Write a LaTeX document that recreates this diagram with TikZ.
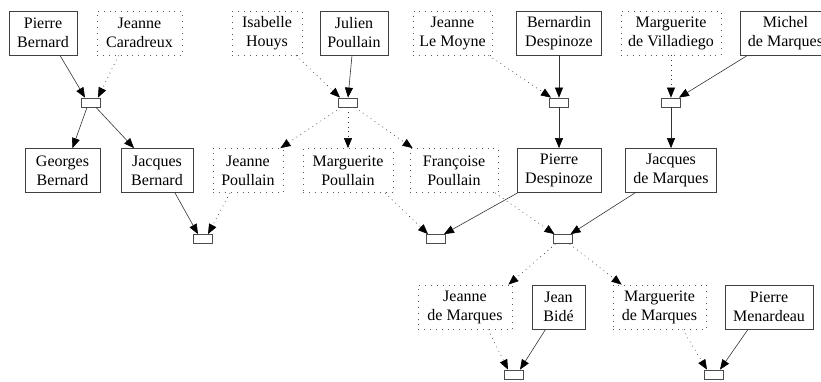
\documentclass[tikz,border=0pt]{standalone}
\usepackage{fontspec}
\setmainfont{Liberation Serif}
\usetikzlibrary{arrows.meta}
\begin{document}
\begin{tikzpicture}[x=1pt,y=-1pt,
  person/.style={draw=black!75, line width=0.8pt, align=center,
    font=\fontsize{16}{19}\selectfont, inner sep=0pt, minimum height=44pt, text=black},
  dperson/.style={person, draw=black!65, dash pattern=on 0.9pt off 5pt},
  fam/.style={draw=black!70, line width=0.8pt, minimum width=19pt, minimum height=9pt, inner sep=0pt},
  rel/.style={draw=black!80, line width=0.6pt, -{Triangle[length=10pt,width=8pt,color=black]}},
  drel/.style={rel, dash pattern=on 0.8pt off 4pt}]
\useasboundingbox (0,0) rectangle (821,381);
% row 1
\node[person, minimum width=68pt] (pb) at (43,33) {Pierre\\Bernard};
\node[dperson, minimum width=85pt] (jc) at (139.5,33) {Jeanne\\Caradreux};
\node[dperson, minimum width=70pt] (ih) at (267,33) {Isabelle\\Houys};
\node[person, minimum width=68pt] (jp) at (354,33) {Julien\\Poullain};
\node[dperson, minimum width=79pt] (jlm) at (452.5,33) {Jeanne\\Le Moyne};
\node[person, minimum width=85pt] (bd) at (559,33) {Bernardin\\Despinoze};
\node[dperson, minimum width=100pt] (mv) at (671,33) {Marguerite\\de Villadiego};
\node[person, minimum width=91pt] (mm) at (785.5,33) {Michel\\de Marques};
% family 1
\node[fam] (f1) at (91,102.5) {};
\node[fam] (f2) at (348,102.5) {};
\node[fam] (f3) at (559,102.5) {};
\node[fam] (f4) at (671,102.5) {};
% row 3
\node[person, minimum width=75pt] (gb) at (62.5,170.5) {Georges\\Bernard};
\node[person, minimum width=72pt] (jb) at (157,170.5) {Jacques\\Bernard};
\node[dperson, minimum width=70pt] (jpo) at (248,170.5) {Jeanne\\Poullain};
\node[dperson, minimum width=90pt] (mp) at (348,170.5) {Marguerite\\Poullain};
\node[dperson, minimum width=88pt] (fp) at (454,170.5) {Françoise\\Poullain};
\node[person, minimum width=84pt] (pd) at (559,170.5) {Pierre\\Despinoze};
\node[person, minimum width=91pt] (jm) at (671,170.5) {Jacques\\de Marques};
% family 2
\node[fam] (f5) at (203,239) {};
\node[fam] (f6) at (436,239) {};
\node[fam] (f7) at (562.5,239) {};
% row 5
\node[dperson, minimum width=94pt] (jdm) at (465,307) {Jeanne\\de Marques};
\node[person, minimum width=53pt] (jbi) at (558.5,307) {Jean\\Bidé};
\node[dperson, minimum width=93pt] (mdm) at (659.5,307) {Marguerite\\de Marques};
\node[person, minimum width=88pt] (pm) at (769,307) {Pierre\\Menardeau};
% family 3
\node[fam] (f8) at (514,374.5) {};
\node[fam] (f9) at (714,374.5) {};
% edges
\draw[rel] ([xshift=17pt]pb.south) -- ([xshift=-6pt]f1.north);
\draw[drel] ([xshift=-21pt]jc.south) -- ([xshift=7pt]f1.north);
\draw[rel] ([xshift=-4pt]f1.south) -- ([xshift=10pt]gb.north);
\draw[rel] ([xshift=5pt]f1.south) -- ([xshift=-23pt]jb.north);
\draw[drel] ([xshift=29pt]ih.south) -- ([xshift=-8pt]f2.north);
\draw[rel] ([xshift=-2pt]jp.south) -- (f2.north);
\draw[drel] ([xshift=-7pt]f2.south) -- ([xshift=-3pt]jpo.north east);
\draw[drel] (f2.south) -- (mp.north);
\draw[drel] ([xshift=7pt]f2.south) -- ([xshift=3pt]fp.north west);
\draw[drel] ([xshift=36pt]jlm.south) -- ([xshift=-8pt]f3.north);
\draw[rel] (bd.south) -- (f3.north);
\draw[rel] (f3.south) -- (pd.north);
\draw[drel] (mv.south) -- (f4.north);
\draw[rel] ([xshift=-38pt]mm.south) -- ([xshift=8pt]f4.north);
\draw[rel] (f4.south) -- (jm.north);
\draw[rel] ([xshift=18pt]jb.south) -- ([xshift=-5pt]f5.north);
\draw[drel] ([xshift=-18pt]jpo.south) -- ([xshift=5pt]f5.north);
\draw[drel] ([xshift=37pt]mp.south) -- ([xshift=-8pt]f6.north);
\draw[rel] ([xshift=1pt]pd.south west) -- ([xshift=8pt]f6.north);
\draw[drel] ([xshift=41pt]fp.south) -- ([xshift=-8pt]f7.north);
\draw[rel] ([xshift=-36pt]jm.south) -- ([xshift=8pt]f7.north);
\draw[drel] ([xshift=-7pt]f7.south) -- ([xshift=-4pt]jdm.north east);
\draw[drel] ([xshift=7pt]f7.south) -- ([xshift=9pt]mdm.north west);
\draw[drel] ([xshift=23pt]jdm.south) -- ([xshift=-6pt]f8.north);
\draw[rel] ([xshift=-13pt]jbi.south) -- ([xshift=6pt]f8.north);
\draw[drel] ([xshift=23pt]mdm.south) -- ([xshift=-7pt]f9.north);
\draw[rel] ([xshift=-21pt]pm.south) -- ([xshift=6pt]f9.north);
\end{tikzpicture}
\end{document}
